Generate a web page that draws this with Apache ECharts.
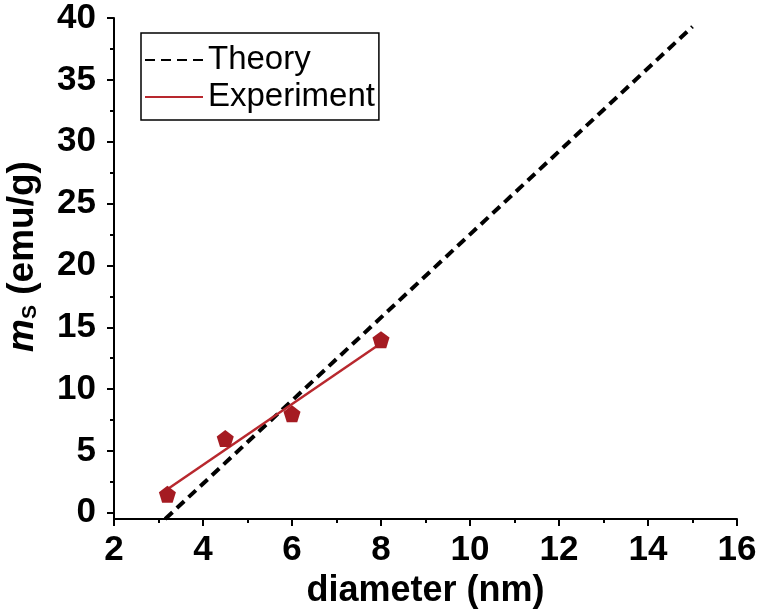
<!DOCTYPE html>
<html>
<head>
<meta charset="utf-8">
<script src="https://cdn.jsdelivr.net/npm/echarts@6/dist/echarts.min.js"></script>
<style>html,body{margin:0;padding:0;background:#fff;}#chart{width:759px;height:615px;}</style>
</head>
<body>
<div id="chart"></div>
<script>
// ---- data ----
var expDiameter = [3.2, 4.5, 6.0, 8.0];
var expMs = [1.5, 6.0, 8.0, 14.0];
var fitDiameter = [3.2, 8.0];
var fitMs = [1.9, 13.7];
var theoryDiameter = [3.15, 15.0];
var theoryMs = [-0.5, 39.3];
var yMajorTicks = [0, 5, 10, 15, 20, 25, 30, 35, 40];
var yMinorTicks = [2.5, 7.5, 12.5, 17.5, 22.5, 27.5, 32.5, 37.5];

function pairs(xs, ys) { return xs.map(function (x, i) { return [x, ys[i]]; }); }

var FONT = '"Liberation Sans", Arial, sans-serif';
var pentagon = 'path://M0,-1 L0.951,-0.309 L0.588,0.809 L-0.588,0.809 L-0.951,-0.309 Z';

var chart = echarts.init(document.getElementById('chart'), null, { renderer: 'canvas' });
chart.setOption({
  animation: false,
  backgroundColor: '#fff',
  grid: { left: 114, right: 22, top: 18, bottom: 96, containLabel: false, outerBoundsMode: 'none' },
  legend: {
    orient: 'vertical',
    left: 141, top: 33,
    padding: [9, 4, 5, 3],
    itemGap: 1,
    itemWidth: 58,
    itemHeight: 14,
    borderColor: '#000',
    borderWidth: 1.5,
    borderRadius: 0,
    itemStyle: { opacity: 0 },
    textStyle: { fontFamily: FONT, fontSize: 33, color: '#000', lineHeight: 36 },
    data: ['Theory', 'Experiment']
  },
  xAxis: {
    type: 'value', min: 2, max: 16, interval: 2,
    name: 'diameter (nm)', nameLocation: 'middle', nameGap: 50,
    nameTextStyle: { fontFamily: FONT, fontSize: 36, fontWeight: 'bold', color: '#000' },
    axisLine: { onZero: false, lineStyle: { color: '#000', width: 2 } },
    axisTick: { inside: false, length: 7, lineStyle: { width: 2, color: '#000' } },
    minorTick: { show: true, splitNumber: 2, length: 4, lineStyle: { width: 2, color: '#000' } },
    splitLine: { show: false },
    minorSplitLine: { show: false },
    axisLabel: { fontFamily: FONT, fontSize: 35, fontWeight: 'bold', color: '#000', margin: 14 }
  },
  yAxis: [{
    type: 'value', min: -0.5, max: 40,
    name: '{m|m}{s|S} (emu/g)', nameLocation: 'middle', nameGap: 73,
    nameTextStyle: {
      fontFamily: FONT, fontSize: 37, fontWeight: 'bold', color: '#000',
      padding: [0, 0, 0, 24],
      rich: {
        m: { fontFamily: FONT, fontSize: 37, fontWeight: 'bold', fontStyle: 'italic', color: '#000' },
        s: { fontFamily: FONT, fontSize: 21, fontWeight: 'bold', color: '#000', verticalAlign: 'bottom' }
      }
    },
    axisLine: { onZero: false, lineStyle: { color: '#000', width: 2 } },
    axisTick: { inside: false, length: 7, customValues: yMajorTicks, lineStyle: { width: 2, color: '#000' } },
    splitLine: { show: false },
    axisLabel: { customValues: yMajorTicks, fontFamily: FONT, fontSize: 35, fontWeight: 'bold', color: '#000', margin: 18 }
  }, {
    type: 'value', min: -0.5, max: 40, position: 'left',
    axisLine: { show: false },
    axisTick: { show: true, inside: false, length: 4, customValues: yMinorTicks, lineStyle: { width: 2, color: '#000' } },
    axisLabel: { show: false },
    splitLine: { show: false }
  }],
  series: [{
    name: 'Theory', type: 'line', yAxisIndex: 0,
    data: pairs(theoryDiameter, theoryMs),
    showSymbol: false, symbol: 'none',
    lineStyle: { color: '#000', width: 4, type: [10, 6] },
    itemStyle: { color: '#000' },
    z: 3
  }, {
    name: 'Experiment', type: 'line', yAxisIndex: 0,
    data: pairs(fitDiameter, fitMs),
    showSymbol: false, symbol: 'none',
    lineStyle: { color: '#B8282E', width: 2.5 },
    itemStyle: { color: '#B8282E' },
    z: 4
  }, {
    name: 'points', type: 'scatter', yAxisIndex: 0,
    data: pairs(expDiameter, expMs),
    symbol: pentagon, symbolSize: 17,
    itemStyle: { color: '#A51B22', opacity: 1 },
    z: 5
  }]
});
</script>
</body>
</html>
